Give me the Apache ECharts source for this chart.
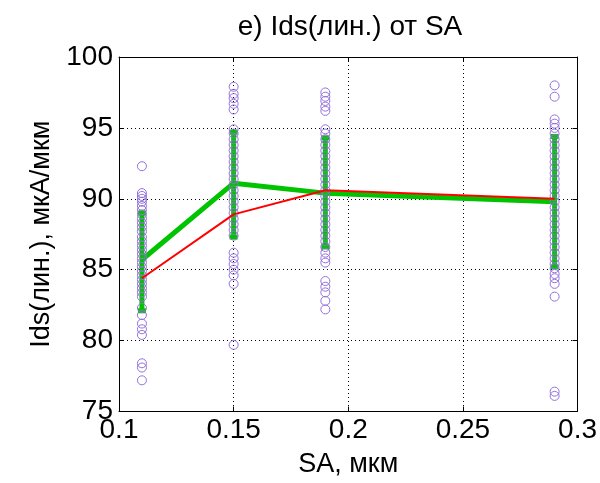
<!DOCTYPE html>
<html>
<head>
<meta charset="utf-8">
<script src="https://cdn.jsdelivr.net/npm/echarts@6/dist/echarts.min.js"></script>
<style>
  html, body { margin: 0; padding: 0; background: #fff; }
  #chart { width: 600px; height: 483px; }
</style>
</head>
<body>
<div id="chart"></div>
<script>
// SA values (мкм)
const saValues = [0.11, 0.15, 0.19, 0.29]

// individual measurements per SA column
const pts011 = [92.3, 90.4, 90.2, 90.0, 89.8, 89.5, 89.2, 88.9, 88.6, 88.3, 88.0, 87.7, 87.3, 87.0, 86.7, 86.4, 86.1, 85.8, 85.5, 85.2, 84.9, 84.6, 84.3, 84.0, 83.7, 83.4, 83.1, 82.3, 81.8, 81.2, 80.8, 80.4, 78.4, 78.1, 77.2]
const pts015 = [97.9, 97.4, 97.1, 96.7, 96.3, 94.9, 94.6, 94.2, 93.8, 93.4, 93.0, 92.6, 92.2, 91.8, 91.4, 91.0, 90.6, 90.2, 89.8, 89.4, 89.0, 88.6, 88.2, 87.8, 87.4, 86.2, 85.8, 85.4, 85.0, 84.6, 84.0, 79.7]
const pts019 = [97.5, 97.2, 96.9, 96.5, 96.2, 94.9, 94.6, 94.2, 93.8, 93.4, 93.0, 92.6, 92.2, 91.8, 91.4, 91.0, 90.6, 90.2, 89.8, 89.4, 89.0, 88.6, 88.2, 87.8, 87.4, 87.0, 86.6, 86.2, 85.8, 85.5, 84.2, 83.8, 83.4, 82.8, 82.2]
const pts029 = [98.0, 97.2, 95.6, 95.3, 95.0, 94.6, 94.2, 93.8, 93.4, 93.0, 92.6, 92.2, 91.8, 91.4, 91.0, 90.6, 90.2, 89.8, 89.4, 89.0, 88.6, 88.2, 87.8, 87.4, 87.0, 86.6, 86.2, 85.8, 85.4, 85.1, 84.7, 84.4, 84.0, 83.1, 76.4, 76.1]

// green: mean with error bar, red: second estimate
const meanGreen = [85.7, 91.1, 90.4, 89.8]
const errTop = [89.0, 94.7, 94.3, 94.4]
const errBottom = [82.1, 87.3, 86.6, 85.2]
const lineRed = [84.4, 88.9, 90.6, 90.0]

const font = 'Liberation Sans, Arial, sans-serif'
const purple = '#9370db'
const green = '#00c400'
const red = '#ff0000'

const scatterData = []
;[pts011, pts015, pts019, pts029].forEach((col, i) => {
    col.forEach(v => scatterData.push([saValues[i], v]))
})

const chart = echarts.init(document.getElementById('chart'))

const axisCommon = {
    axisLine: { show: true, lineStyle: { color: '#000', width: 1 } },
    axisTick: { show: true, inside: true, length: 5, lineStyle: { color: '#000' } },
}
const dotted = { show: true, lineStyle: { color: '#000', type: [1, 3], width: 1 } }

const option = {
    animation: false,
    title: {
        text: 'e) Ids(лин.) от SA',
        left: 345,
        textAlign: 'center',
        top: 8,
        textStyle: { fontFamily: font, fontSize: 28, fontWeight: 'normal', color: '#000' },
    },
    grid: { left: 119, right: 22, top: 57, bottom: 65, show: false },
    xAxis: [
        {
            ...axisCommon,
            type: 'value',
            min: 0.1,
            max: 0.3,
            interval: 0.05,
            name: 'SA, мкм',
            nameLocation: 'middle',
            nameGap: 53,
            nameTextStyle: { fontFamily: font, fontSize: 27, color: '#000', verticalAlign: 'middle' },
            axisLabel: {
                fontFamily: font, fontSize: 28, color: '#000', margin: 5,
                formatter: v => String(+v.toFixed(2)),
            },
            splitLine: dotted,
        },
        {
            ...axisCommon,
            type: 'value',
            position: 'top',
            min: 0.1,
            max: 0.3,
            interval: 0.05,
            axisLabel: { show: false },
            splitLine: { show: false },
        },
    ],
    yAxis: [
        {
            ...axisCommon,
            type: 'value',
            min: 75,
            max: 100,
            interval: 5,
            name: 'Ids(лин.), мкА/мкм',
            nameLocation: 'middle',
            nameGap: 64,
            nameTextStyle: { fontFamily: font, fontSize: 27, color: '#000', verticalAlign: 'middle' },
            axisLabel: { fontFamily: font, fontSize: 28, color: '#000', margin: 6 },
            splitLine: dotted,
        },
        {
            ...axisCommon,
            type: 'value',
            position: 'right',
            min: 75,
            max: 100,
            interval: 5,
            axisLabel: { show: false },
            splitLine: { show: false },
        },
    ],
    series: [
        {
            type: 'custom',
            z: 2,
            data: saValues.map((x, i) => [x, errTop[i], errBottom[i]]),
            renderItem: (params, api) => {
                const top = api.coord([api.value(0), api.value(1)])
                const bot = api.coord([api.value(0), api.value(2)])
                const capW = 4
                const style = { stroke: green, lineWidth: 5 }
                return {
                    type: 'group',
                    children: [
                        { type: 'line', shape: { x1: top[0], y1: top[1], x2: bot[0], y2: bot[1] }, style },
                        { type: 'line', shape: { x1: top[0] - capW, y1: top[1], x2: top[0] + capW, y2: top[1] }, style },
                        { type: 'line', shape: { x1: bot[0] - capW, y1: bot[1], x2: bot[0] + capW, y2: bot[1] }, style },
                    ],
                }
            },
        },
        {
            type: 'line',
            z: 2,
            data: saValues.map((x, i) => [x, meanGreen[i]]),
            symbol: 'none',
            lineStyle: { color: green, width: 5 },
        },
        {
            type: 'scatter',
            z: 3,
            data: scatterData,
            symbol: 'circle',
            symbolSize: 9,
            itemStyle: { color: 'rgba(0,0,0,0)', borderColor: purple, borderWidth: 1, opacity: 1 },
        },
        {
            type: 'line',
            z: 4,
            data: saValues.map((x, i) => [x, lineRed[i]]),
            symbol: 'none',
            lineStyle: { color: red, width: 2 },
        },
    ],
}

chart.setOption(option)
</script>
</body>
</html>
